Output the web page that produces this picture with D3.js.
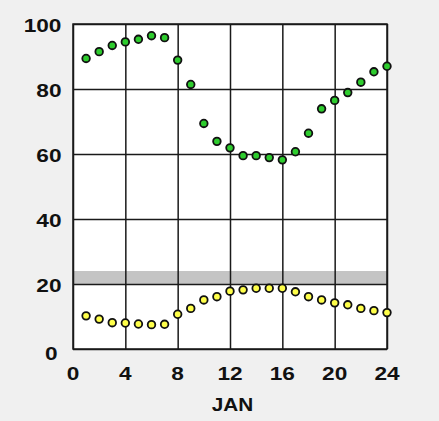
<!DOCTYPE html>
<html>
<head>
<meta charset="utf-8">
<script src="https://cdn.jsdelivr.net/npm/d3@7"></script>
<style>
  body { margin: 0; background: #f0f0f0; }
  text { font-family: "Liberation Sans", Arial, sans-serif; font-weight: bold; fill: #111; }
</style>
</head>
<body>
<div id="chart"></div>
<script>
const days = d3.range(1, 25);
const upper = [89.4, 91.5, 93.4, 94.5, 95.3, 96.4, 95.8, 88.9, 81.4, 69.4, 63.9, 61.9,
    59.5, 59.5, 58.9, 58.2, 60.7, 66.4, 73.9, 76.5, 78.9, 82.1, 85.3, 87.0];
const lower = [10.2, 9.2, 8.1, 8.0, 7.7, 7.5, 7.6, 10.7, 12.5, 15.1, 16.1, 17.8,
    18.2, 18.7, 18.7, 18.7, 17.6, 16.1, 15.1, 14.2, 13.6, 12.5, 11.8, 11.2];
const band = [20, 24];
const xTicks = [0, 4, 8, 12, 16, 20, 24];
const yTicks = [0, 20, 40, 60, 80, 100];
const xLabel = 'JAN';

const W = 439, H = 421;
const m = {left: 73, top: 24, right: 387, bottom: 349};

var svg = d3.select('#chart').append('svg')
    .attr('width', W)
    .attr('height', H);

var x = d3.scaleLinear().domain([0, 24]).range([m.left, m.right]);
var y = d3.scaleLinear().domain([0, 100]).range([m.bottom, m.top]);

svg.append('rect')
    .attr('x', m.left).attr('y', m.top)
    .attr('width', m.right - m.left).attr('height', m.bottom - m.top)
    .attr('fill', '#fff');

svg.append('rect')
    .attr('x', m.left).attr('y', y(band[1]))
    .attr('width', m.right - m.left).attr('height', y(band[0]) - y(band[1]))
    .attr('fill', '#c4c4c4');

// grid via axes
svg.append('g')
    .attr('transform', 'translate(0,' + m.bottom + ')')
    .call(d3.axisBottom(x).tickValues(xTicks).tickSize(-(m.bottom - m.top)).tickFormat(''))
    .call(g => g.select('.domain').remove())
    .selectAll('line').attr('stroke', '#1a1a1a').attr('stroke-width', 1.5);

svg.append('g')
    .attr('transform', 'translate(' + m.left + ',0)')
    .call(d3.axisLeft(y).tickValues(yTicks).tickSize(-(m.right - m.left)).tickFormat(''))
    .call(g => g.select('.domain').remove())
    .selectAll('line').attr('stroke', '#1a1a1a').attr('stroke-width', 1.5);

svg.append('rect')
    .attr('x', m.left).attr('y', m.top)
    .attr('width', m.right - m.left).attr('height', m.bottom - m.top)
    .attr('fill', 'none').attr('stroke', '#1a1a1a').attr('stroke-width', 1.5);

// tick labels (the original font is wide, so stretch glyphs)
svg.append('g').selectAll('text').data(yTicks).enter().append('text')
    .attr('x', d => d === 0 ? 57.5 : 61.5)
    .attr('y', d => y(d) + (d === 0 ? 4.5 : 1.5))
    .attr('text-anchor', 'end')
    .attr('dominant-baseline', 'central')
    .attr('font-size', 18)
    .attr('textLength', d => String(d).length * 12.6)
    .attr('lengthAdjust', 'spacingAndGlyphs')
    .text(d => d);

svg.append('g').selectAll('text').data(xTicks).enter().append('text')
    .attr('x', d => x(d))
    .attr('y', 373.5)
    .attr('text-anchor', 'middle')
    .attr('dominant-baseline', 'central')
    .attr('font-size', 18)
    .attr('textLength', d => String(d).length * 12.6)
    .attr('lengthAdjust', 'spacingAndGlyphs')
    .text(d => d);

svg.append('text')
    .attr('x', 232.5)
    .attr('y', 404)
    .attr('text-anchor', 'middle')
    .attr('dominant-baseline', 'central')
    .attr('font-size', 19)
    .attr('textLength', 41.5)
    .attr('lengthAdjust', 'spacingAndGlyphs')
    .text(xLabel);

function dots(vals, fill) {
    svg.append('g').selectAll('circle').data(vals).enter().append('circle')
        .attr('cx', (d, i) => x(days[i]))
        .attr('cy', d => y(d))
        .attr('r', 3.8)
        .attr('fill', fill)
        .attr('stroke', '#111')
        .attr('stroke-width', 1.8);
}
dots(upper, '#2ecc2e');
dots(lower, '#ffff4a');
</script>
</body>
</html>
